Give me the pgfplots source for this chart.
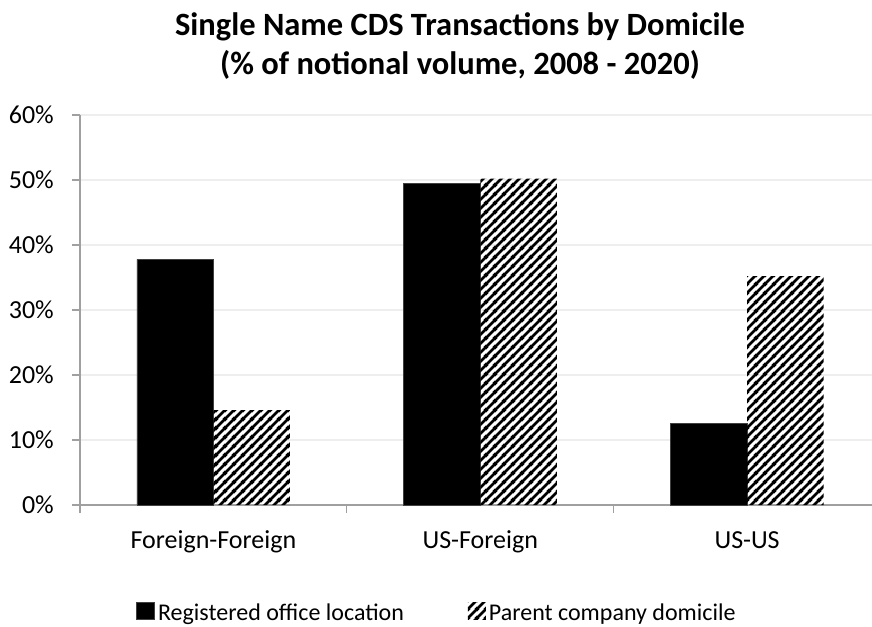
\documentclass[border=0pt]{standalone}
\usepackage{fontspec}
\setmainfont{Carlito}
\usepackage{pgfplots}
\pgfplotsset{compat=1.18}
\usetikzlibrary{patterns.meta}
\definecolor{gridc}{RGB}{238,238,238}
\definecolor{axc}{RGB}{160,160,160}
\tikzdeclarepattern{
  name=xlhatch, type=uncolored,
  bounding box={(0pt,0pt) and (9pt,9pt)},
  tile size={(9pt,9pt)},
  code={
    \pgfsetlinewidth{2.9pt}
    \pgfpathmoveto{\pgfpoint{-2pt}{-2pt}}\pgfpathlineto{\pgfpoint{11pt}{11pt}}
    \pgfpathmoveto{\pgfpoint{-2pt}{7pt}}\pgfpathlineto{\pgfpoint{2pt}{11pt}}
    \pgfpathmoveto{\pgfpoint{7pt}{-2pt}}\pgfpathlineto{\pgfpoint{11pt}{2pt}}
    \pgfusepath{stroke}
  }
}
\begin{document}
\begin{tikzpicture}[x=1pt,y=1pt]
\useasboundingbox (0,0) rectangle (872,626);
\node[anchor=base, font=\fontsize{32.5}{32.5}\selectfont\bfseries] at (460,590) {Single Name CDS Transactions by Domicile};
\node[anchor=base, font=\fontsize{32.5}{32.5}\selectfont\bfseries] at (460,551) {(\% of notional volume, 2008 - 2020)};
\begin{axis}[
  at={(80pt,121pt)}, anchor=south west,
  scale only axis, width=792pt, height=390pt,
  xmin=-0.5, xmax=2.468, ymin=0, ymax=60,
  ybar=0pt, bar width=76.5pt,
  axis x line*=bottom, axis y line*=left,
  axis line style={axc, line width=1.2pt, -},
  /pgf/number format/assume math mode=true,
  ytick={0,10,20,30,40,50,60},
  yticklabels={0\%,10\%,20\%,30\%,40\%,50\%,60\%},
  xtick={0,1,2},
  xticklabels={Foreign-Foreign,US-Foreign,US-US},
  tick align=outside, major tick length=8pt,
  ytick style={axc, line width=1.2pt},
  major x tick style={draw=none},
  extra x ticks={-0.5,0.5,1.5}, extra x tick labels={},
  extra x tick style={major x tick style={draw=axc, line width=1.2pt}},
  ymajorgrids, major grid style={gridc, line width=1.2pt},
  tick label style={font=\fontsize{26}{26}\selectfont},
  yticklabel style={anchor=east, inner sep=0pt, xshift=-18pt},
  xticklabel style={anchor=base, inner sep=0pt, yshift=-35pt},
  legend columns=2,
  legend style={draw=none, fill=none, inner sep=0pt,
    at={(axis description cs:0.4495,-0.300)}, anchor=south,
    font=\fontsize{24}{24}\selectfont,
    nodes={inner sep=0pt},
    /tikz/every odd column/.append style={column sep=3pt},
    /tikz/every even column/.append style={column sep=64pt}},
  legend cell align=left,
  legend image code/.code={\fill[#1] (0pt,-7pt) rectangle (18pt,10pt);},
]
\addplot[fill=black, draw=black!75, line width=0.6pt] coordinates {(0,37.8) (1,49.5) (2,12.6)};
\addplot[draw=none, pattern=xlhatch, pattern color=black] coordinates {(0,14.6) (1,50.2) (2,35.2)};
\legend{Registered office location, Parent company domicile}
\end{axis}
\end{tikzpicture}
\end{document}
